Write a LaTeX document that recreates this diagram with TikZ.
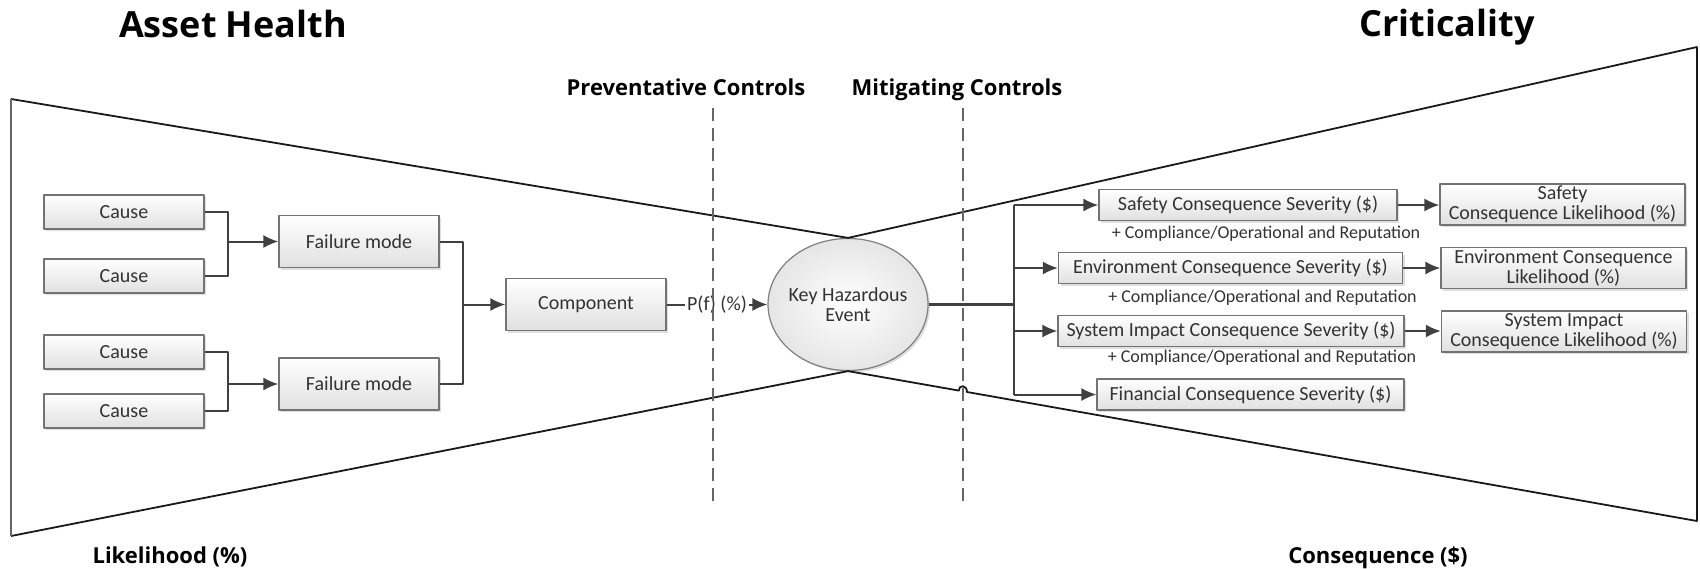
\documentclass[tikz,border=0pt]{standalone}
\usepackage{fontspec}
\setmainfont{Carlito}
\newfontfamily\headfont{Open Sans}
\usepackage{tikz}
\usetikzlibrary{shapes,arrows,arrows.meta,shadows,positioning}

\tikzset{
  title/.style={font=\headfont\bfseries\fontsize{18}{21}\selectfont},
  heading/.style={font=\headfont\bfseries\fontsize{11}{13}\selectfont},
  box/.style={draw=black!55,line width=0.6pt,top color=white,bottom color=black!12,
    drop shadow={shadow xshift=1pt,shadow yshift=-1pt,opacity=0.25},
    text=black!80,inner sep=1pt,font=\fontsize{10}{10}\selectfont},
  cause/.style={box,minimum width=80pt,minimum height=17pt},
  fmode/.style={box,minimum width=80pt,minimum height=26pt},
  sev/.style={box,minimum height=15.5pt},
  likeli/.style={box,align=center,minimum width=122.5pt,minimum height=20.5pt},
  event/.style={box,ellipse,align=center,inner xsep=-6pt,inner ysep=0pt,
    minimum width=80pt,minimum height=66pt,draw=black!50,
    inner color=white,outer color=black!10},
  note/.style={text=black!80,font=\fontsize{9}{10}\selectfont},
  plabel/.style={fill=white,inner sep=1pt,text=black!80,font=\fontsize{10}{10}\selectfont},
  conn/.style={draw=black!75,line width=1pt},
  outline/.style={black!90,line width=0.9pt},
  ctrl/.style={black!60,line width=0.8pt,dash pattern=on 6.5pt off 3.5pt}
}

\begin{document}
\begin{tikzpicture}[x=0.5pt,y=-0.5pt,>={Latex[length=7.5pt,width=6.5pt]},line join=bevel]
%%
\useasboundingbox (0,0) rectangle (1700,568);
  \node (asset) at (233,37) [title,anchor=base] {Asset Health};
  \node (crit) at (1447,36) [title,anchor=base] {Criticality};
  \node (prev) at (686,95) [heading,anchor=base] {Preventative Controls};
  \node (mitig) at (957,95) [heading,anchor=base] {Mitigating Controls};
  \node (likely) at (170,563) [heading,anchor=base] {Likelihood (\%)};
  \node (conseq) at (1378,563) [heading,anchor=base] {Consequence (\$)};
%
  \node (cause1) at (124,212) [cause] {Cause};
  \node (cause2) at (124,276) [cause] {Cause};
  \node (cause3) at (124,352) [cause] {Cause};
  \node (cause4) at (124,411) [cause] {Cause};
  \node (fmode1) at (359,241.5) [fmode] {Failure mode};
  \node (fmode2) at (359,384) [fmode] {Failure mode};
  \node (comp) at (586,304.5) [fmode] {Component};
  \node (khe) at (848,304.5) [event] {Key Hazardous\\Event};
%
  \node (sev1) at (1248,205) [sev,minimum width=149pt] {Safety Consequence Severity (\$)};
  \node (sev2) at (1230.5,268) [sev,minimum width=172pt] {Environment Consequence Severity (\$)};
  \node (sev3) at (1231,331) [sev,minimum width=173pt] {System Impact Consequence Severity (\$)};
  \node (sev4) at (1250.5,394.5) [sev,minimum width=153.5pt] {Financial Consequence Severity (\$)};
  \node (like1) at (1562.5,204.5) [likeli] {Safety\\Consequence Likelihood (\%)};
  \node (like2) at (1563.5,268) [likeli] {Environment Consequence\\Likelihood (\%)};
  \node (like3) at (1564,331.5) [likeli] {System Impact\\Consequence Likelihood (\%)};
  \node (note1) at (1266,234) [note] {+ Compliance/Operational and Reputation};
  \node (note2) at (1262.5,297.5) [note] {+ Compliance/Operational and Reputation};
  \node (note3) at (1262,357.5) [note] {+ Compliance/Operational and Reputation};
%
  \coordinate (j1) at (228,241.5);
  \coordinate (j2) at (228,384);
  \coordinate (j3) at (463,304.5);
  \coordinate (j4) at (1014,304.5);
  \coordinate (ltop) at (11,99);
  \coordinate (lbot) at (11,536);
  \coordinate (rtop) at (1697,47);
  \coordinate (rbot) at (1697,521);
  \coordinate (hopa) at (959,390.6);
  \coordinate (hopb) at (967,392);
  \coordinate (prevtop) at (713,108);
  \coordinate (prevbot) at (713,501);
  \coordinate (mitigtop) at (963,108);
  \coordinate (mitigbot) at (963,501);
%
  \draw [outline] (lbot) -- (khe.south) -- (hopa)
    .. controls (959,384) and (967,385) .. (hopb) -- (rbot) -- (rtop) -- (khe.north) -- (ltop);
  \draw [outline,black!60,line width=0.6pt] (ltop) -- (lbot);
%
  \draw [conn] (cause1.east) -| (j1);
  \draw [conn] (cause2.east) -| (j1);
  \draw [conn,->] (j1) -- (fmode1);
  \draw [conn] (cause3.east) -| (j2);
  \draw [conn] (cause4.east) -| (j2);
  \draw [conn,->] (j2) -- (fmode2);
  \draw [conn] (fmode1.east) -| (j3);
  \draw [conn] (fmode2.east) -| (j3);
  \draw [conn,->] (j3) -- (comp);
  \draw [conn,->] (comp) -- node [plabel] (pf) {P(f) (\%)} (khe);
%
  \draw [conn,line width=1.3pt] (khe.east) -- (j4);
  \draw [conn] (j4 |- sev1.west) -- (j4 |- sev4.west);
  \draw [conn,->] (j4 |- sev1.west) -- (sev1.west);
  \draw [conn,->] (j4 |- sev2.west) -- (sev2.west);
  \draw [conn,->] (j4 |- sev3.west) -- (sev3.west);
  \draw [conn,->] (j4 |- sev4.west) -- (sev4.west);
  \draw [conn,->] (sev1.east) -- (sev1.east -| like1.west);
  \draw [conn,->] (sev2.east) -- (sev2.east -| like2.west);
  \draw [conn,->] (sev3.east) -- (sev3.east -| like3.west);
%
  \draw [ctrl] (prevtop) -- (prevbot);
  \draw [ctrl] (mitigtop) -- (mitigbot);
%
\end{tikzpicture}
\end{document}
